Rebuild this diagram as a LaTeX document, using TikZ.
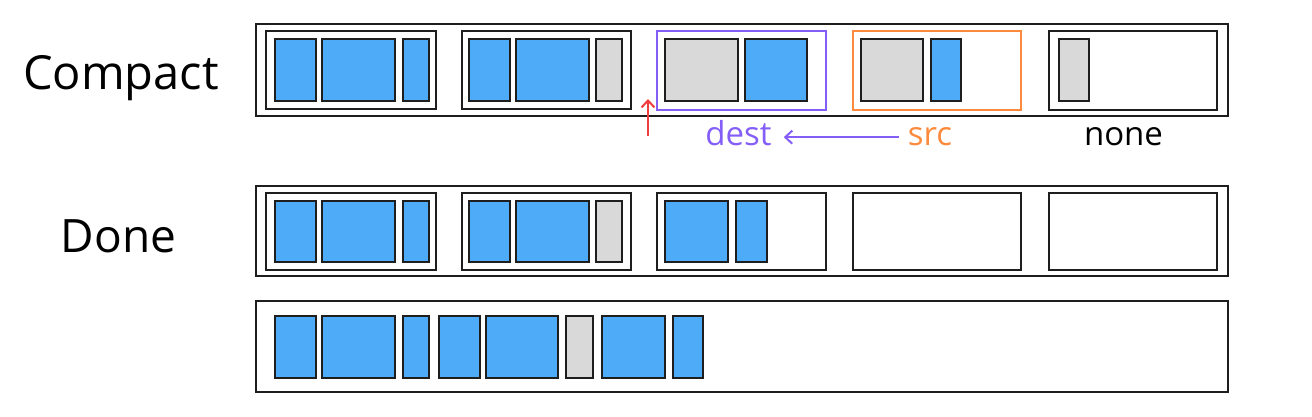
\documentclass[tikz,border=0pt]{standalone}
\usepackage{fontspec}
\setmainfont{Open Sans}
\usetikzlibrary{fit,arrows.meta}
\definecolor{bblue}{HTML}{4DABF7}
\definecolor{bgray}{HTML}{D9D9D9}
\definecolor{vio}{HTML}{845EF7}
\definecolor{ora}{HTML}{FD8A3C}
\definecolor{rd}{HTML}{F03E3E}
\definecolor{ink}{HTML}{1E1E1E}
\newcommand\rbox[6]{\node[#1, fit={(#3,#4) (#5,#6)}] (#2) {};}
\begin{document}
\begin{tikzpicture}[x=1pt,y=-1pt,
  frame/.style={draw=ink, line width=2pt, inner sep=0pt, outer sep=0pt},
  bblk/.style={frame, fill=bblue},
  gblk/.style={frame, fill=bgray},
  vframe/.style={frame, draw=vio},
  oframe/.style={frame, draw=ora},
  lbl/.style={anchor=base, inner sep=0pt, font=\fontsize{47}{56}\selectfont},
  slbl/.style={anchor=base, inner sep=0pt, font=\fontsize{33}{40}\selectfont},
  barb/.style={line width=2pt, -{Straight Barb[length=7pt,width=13pt,line width=2pt]}}
]
\useasboundingbox (0,0) rectangle (1312,417);
% Row 1 : Compact
\rbox{frame}{r1}{256}{24}{1228}{116}
\rbox{frame}{g11}{266}{31}{436}{109}
\rbox{bblk}{b111}{275}{39}{316}{101}
\rbox{bblk}{b112}{322}{39}{395}{101}
\rbox{bblk}{b113}{403}{39}{429}{101}
\rbox{frame}{g12}{462}{31}{631}{109}
\rbox{bblk}{b121}{469}{39}{510}{101}
\rbox{bblk}{b122}{516}{39}{589}{101}
\rbox{gblk}{b123}{596}{39}{622}{101}
\rbox{vframe}{g13}{657}{31}{826}{110}
\rbox{gblk}{b131}{665}{39}{738}{101}
\rbox{bblk}{b132}{745}{39}{807}{101}
\rbox{oframe}{g14}{853}{31}{1021}{110}
\rbox{gblk}{b141}{861}{39}{923}{101}
\rbox{bblk}{b142}{931}{39}{961}{101}
\rbox{frame}{g15}{1049}{31}{1217}{110}
\rbox{gblk}{b151}{1059}{39}{1089}{101}
% Row 2 : Done
\rbox{frame}{r2}{256}{186}{1228}{276}
\rbox{frame}{g21}{266}{193}{436}{270}
\rbox{bblk}{b211}{275}{201}{316}{262}
\rbox{bblk}{b212}{322}{201}{395}{262}
\rbox{bblk}{b213}{403}{201}{429}{262}
\rbox{frame}{g22}{462}{193}{631}{270}
\rbox{bblk}{b221}{469}{201}{510}{262}
\rbox{bblk}{b222}{516}{201}{589}{262}
\rbox{gblk}{b223}{596}{201}{622}{262}
\rbox{frame}{g23}{657}{193}{826}{270}
\rbox{bblk}{b231}{665}{201}{728}{262}
\rbox{bblk}{b232}{736}{201}{767}{262}
\rbox{frame}{g24}{853}{193}{1021}{270}
\rbox{frame}{g25}{1049}{193}{1217}{270}
% Row 3
\rbox{frame}{r3}{256}{301}{1228}{392}
\rbox{bblk}{b31}{275}{316}{316}{378}
\rbox{bblk}{b32}{322}{316}{395}{378}
\rbox{bblk}{b33}{403}{316}{429}{378}
\rbox{bblk}{b34}{439}{316}{480}{378}
\rbox{bblk}{b35}{486}{316}{558}{378}
\rbox{gblk}{b36}{566}{316}{593}{378}
\rbox{bblk}{b37}{602}{316}{665}{378}
\rbox{bblk}{b38}{673}{316}{703}{378}
% Labels
\node[lbl] (compact) at (121,90) {Compact};
\node[lbl, font=\fontsize{46}{55}\selectfont] (done) at (118.5,252) {Done};
\node[slbl, text=vio] (dest) at (738.5,146) {dest};
\node[slbl, text=ora] (src) at (930,146) {src};
\node[slbl, text=black] (none) at (1123.5,146) {none};
% Arrows
\coordinate (redtail) at (648,136);
\coordinate (redtip) at (648,99);
\draw[barb, draw=rd] (redtail) -- (redtip);
\draw[barb, draw=vio] ([xshift=-9pt]src.west) -- ([xshift=12pt]src.west -| dest.east);
\end{tikzpicture}
\end{document}
